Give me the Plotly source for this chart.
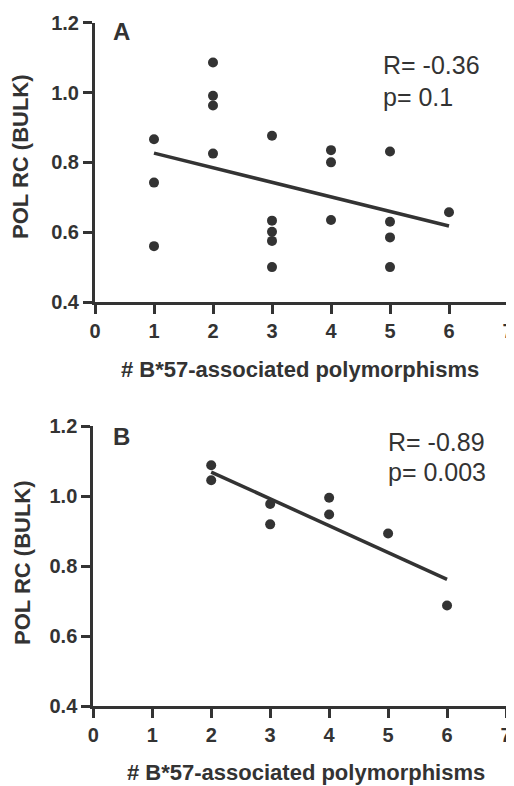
import numpy as np
import plotly.graph_objects as go

# ---- data ----
x_a = [1, 1, 1, 2, 2, 2, 2, 3, 3, 3, 3, 3, 4, 4, 4, 5, 5, 5, 5, 6]
y_a = [0.866, 0.742, 0.560, 1.086, 0.991, 0.963, 0.825, 0.876, 0.633, 0.601,
       0.575, 0.500, 0.835, 0.800, 0.635, 0.831, 0.630, 0.585, 0.500, 0.657]
x_b = [2, 2, 3, 3, 4, 4, 5, 6]
y_b = [1.088, 1.045, 0.977, 0.919, 0.995, 0.947, 0.893, 0.687]
stats_a = ["R= -0.36", "p= 0.1"]
stats_b = ["R= -0.89", "p= 0.003"]
panel_labels = ["A", "B"]
x_title = "# B*57-associated polymorphisms"
y_title = "POL RC (BULK)"
x_ticks = [0, 1, 2, 3, 4, 5, 6, 7]
y_ticks = [0.4, 0.6, 0.8, 1.0, 1.2]
y_ticklabels = ["0.4", "0.6", "0.8", "1.0", "1.2"]

OFF = 8  # the page body margin shifts the figure by this much
W, H = 514 - OFF, 786 - OFF
INK = "#333333"
FONT = "Liberation Sans, Arial, sans-serif"


def px(v):
    return (v - OFF) / W


def py(v):
    return 1 - (v - OFF) / H


fig = go.Figure()


def fit_line(xs, ys):
    k, b = np.polyfit(xs, ys, 1)
    xx = [min(xs), max(xs)]
    return xx, [k * v + b for v in xx]


for xs, ys, xa, ya in [(x_a, y_a, "x", "y"), (x_b, y_b, "x2", "y2")]:
    lx, ly = fit_line(xs, ys)
    fig.add_trace(go.Scatter(x=lx, y=ly, mode="lines", xaxis=xa, yaxis=ya,
                             line=dict(color=INK, width=3.5), showlegend=False,
                             hoverinfo="skip"))
    fig.add_trace(go.Scatter(x=xs, y=ys, mode="markers", xaxis=xa, yaxis=ya,
                             marker=dict(color=INK, size=10), showlegend=False,
                             cliponaxis=False))

axis_common = dict(
    showline=True, linecolor=INK, linewidth=3, showgrid=False, zeroline=False,
    ticks="outside", ticklen=9, tickwidth=3, tickcolor=INK, automargin=False,
    ticklabeloverflow="allow",
    tickfont=dict(family=FONT, size=20, color=INK, weight="bold"),
)

fig.update_layout(
    width=W, height=H, margin=dict(l=0, r=0, t=0, b=0, autoexpand=False),
    plot_bgcolor="white", paper_bgcolor="white",
    xaxis=dict(axis_common, domain=[px(95), px(508)], range=[0, 7],
               tickvals=x_ticks, anchor="y"),
    yaxis=dict(axis_common, domain=[py(302), py(22.7)], range=[0.4, 1.2],
               tickvals=y_ticks, ticktext=y_ticklabels, anchor="x"),
    xaxis2=dict(axis_common, domain=[px(93.3), px(506)], range=[0, 7],
                tickvals=x_ticks, anchor="y2"),
    yaxis2=dict(axis_common, domain=[py(706), py(426)], range=[0.4, 1.2],
                tickvals=y_ticks, ticktext=y_ticklabels, anchor="x2"),
)

ann = []
# panel labels
for lab, yy in zip(panel_labels, [32, 436]):
    ann.append(dict(text=lab, x=px(111), y=py(yy), xref="paper", yref="paper",
                    xanchor="left", yanchor="middle", showarrow=False,
                    font=dict(family=FONT, size=24, color=INK, weight="bold")))
# stats
for texts, x0, ys in [(stats_a, 381, [65, 97]), (stats_b, 386, [442, 472])]:
    for t, yy in zip(texts, ys):
        ann.append(dict(text=t, x=px(x0), y=py(yy), xref="paper", yref="paper",
                        xanchor="left", yanchor="middle", showarrow=False,
                        font=dict(family=FONT, size=25, color=INK)))
# axis titles
for xc, yc in [(300, 369), (306, 772)]:
    ann.append(dict(text=x_title, x=px(xc), y=py(yc), xref="paper", yref="paper",
                    xanchor="center", yanchor="middle", showarrow=False,
                    font=dict(family=FONT, size=22, color=INK, weight="bold")))
for xc, yc in [(20, 157), (22, 563)]:
    ann.append(dict(text=y_title, x=px(xc), y=py(yc), xref="paper", yref="paper",
                    xanchor="center", yanchor="middle", showarrow=False,
                    textangle=-90,
                    font=dict(family=FONT, size=22, color=INK, weight="bold")))
fig.update_layout(annotations=ann)

fig.write_html("out.html")
